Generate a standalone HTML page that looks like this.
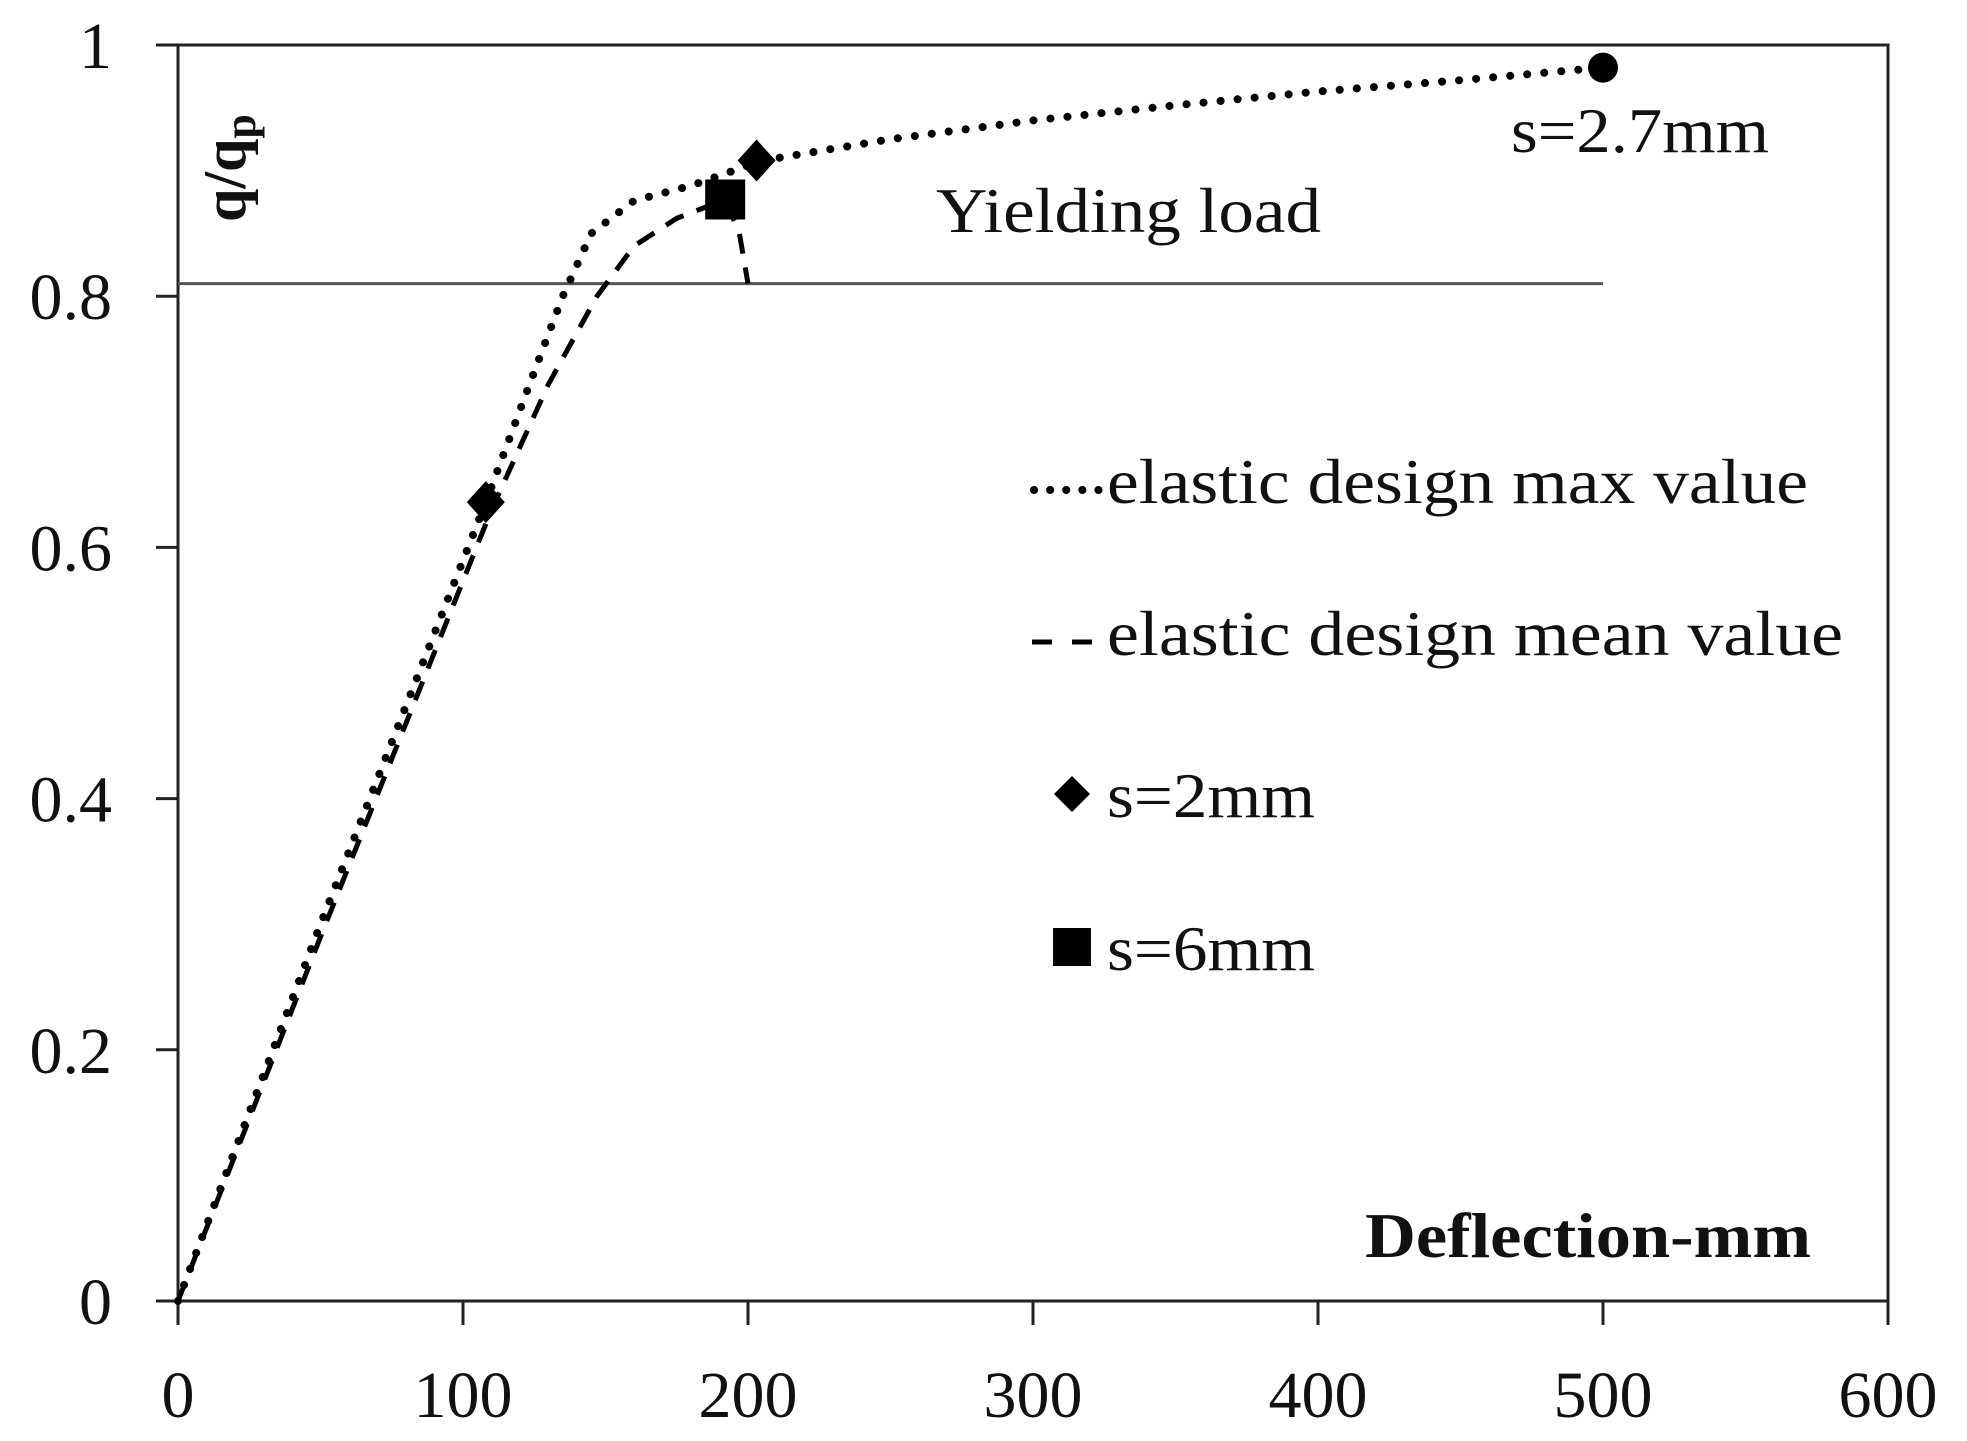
<!DOCTYPE html>
<html><head><meta charset="utf-8"><style>
html,body{margin:0;padding:0;background:#fff}
svg{display:block}
text{font-family:"Liberation Serif",serif;fill:#111}
</style></head><body>
<svg id="chart" width="1967" height="1441" viewBox="0 0 1967 1441" xmlns="http://www.w3.org/2000/svg">
<g id="axes"></g>
<g id="series"></g>
<g id="labels">
  <text transform="translate(245,222) rotate(-90)" font-size="60" font-weight="bold">q/q<tspan font-size="44" dy="10">p</tspan></text>
  <text x="1365" y="1257" font-size="64" font-weight="bold" textLength="446" lengthAdjust="spacingAndGlyphs">Deflection-mm</text>
  <text x="936" y="232" font-size="64" textLength="385" lengthAdjust="spacingAndGlyphs">Yielding load</text>
  <text x="1511" y="152" font-size="64" textLength="258" lengthAdjust="spacingAndGlyphs">s=2.7mm</text>
</g>
<g id="legend">
  <line x1="1034" y1="490" x2="1100" y2="490" stroke="#000" stroke-width="8" stroke-linecap="round" stroke-dasharray="0.1 16"/>
  <text x="1107" y="503" font-size="64" textLength="701" lengthAdjust="spacingAndGlyphs">elastic design max value</text>
  <line x1="1032" y1="642" x2="1092" y2="642" stroke="#000" stroke-width="5" stroke-dasharray="20 20"/>
  <text x="1107" y="655" font-size="64" textLength="736" lengthAdjust="spacingAndGlyphs">elastic design mean value</text>
  <path d="M1072 776 L1090 794 L1072 812 L1054 794 Z" fill="#000"/>
  <text x="1107" y="817" font-size="64" textLength="208" lengthAdjust="spacingAndGlyphs">s=2mm</text>
  <rect x="1053" y="928" width="38" height="38" fill="#000"/>
  <text x="1107" y="970" font-size="64" textLength="208" lengthAdjust="spacingAndGlyphs">s=6mm</text>
</g>
<script>
const xTicks=[0,100,200,300,400,500,600];
const yTicks=[0,0.2,0.4,0.6,0.8,1];
const yTickLabels=["0","0.2","0.4","0.6","0.8","1"];
const maxX=[0,50,108,125,135,145,160,180,205,250,300,350,400,450,500];
const maxY=[0,0.3,0.636,0.74,0.8,0.85,0.876,0.888,0.908,0.925,0.94,0.952,0.963,0.972,0.982];
const meanX=[0,50,110,130,147,160,175,192,197,200];
const meanY=[0,0.29,0.63,0.73,0.8,0.84,0.862,0.877,0.85,0.81];
const diamondX=[108,203];
const diamondY=[0.636,0.908];
const squareX=[192];
const squareY=[0.877];
const circleX=[500];
const circleY=[0.982];
const yieldLoad=0.81;
const yieldEnd=500;

const X0=178,X1=1888,Y0=1301,Y1=45;
const sx=v=>X0+(v-0)/600*(X1-X0);
const sy=v=>Y0-(v-0)/1*(Y0-Y1);
const NS="http://www.w3.org/2000/svg";
function mk(tag,attrs,parent){const e=document.createElementNS(NS,tag);for(const k in attrs)e.setAttribute(k,attrs[k]);parent.appendChild(e);return e;}
const ax=document.getElementById('axes');
const se=document.getElementById('series');

let frame=mk('rect',{x:X0,y:Y1,width:X1-X0,height:Y0-Y1,fill:'none',stroke:'#222','stroke-width':3},ax);


xTicks.forEach((t,i)=>{
  const l=mk('line',{x1:sx(t),y1:Y0,x2:sx(t),y2:Y0+24,stroke:'#222','stroke-width':3},ax);
  
  
  const tx=mk('text',{x:sx(t),y:1417,'font-size':66,'text-anchor':'middle'},ax);
  tx.textContent=String(t);
  
  
});
yTicks.forEach((t,i)=>{
  const l=mk('line',{x1:X0-22,y1:sy(t),x2:X0,y2:sy(t),stroke:'#222','stroke-width':3},ax);
  
  
  const tx=mk('text',{x:112,y:sy(t)+23,'font-size':66,'text-anchor':'end'},ax);
  tx.textContent=yTickLabels[i];
  
  
});
const yl=mk('line',{x1:X0,y1:sy(yieldLoad),x2:sx(yieldEnd),y2:sy(yieldLoad),stroke:'#555','stroke-width':3},se);



function pathFrom(xs,ys){return xs.map((x,i)=>(i?'L':'M')+sx(x).toFixed(1)+' '+sy(ys[i]).toFixed(1)).join(' ');}
const mean=mk('path',{d:pathFrom(meanX,meanY),fill:'none',stroke:'#000','stroke-width':5,'stroke-dasharray':'20 14'},se);


const mx=mk('path',{d:pathFrom(maxX,maxY),fill:'none',stroke:'#000','stroke-width':8,'stroke-linecap':'round','stroke-dasharray':'0.1 17'},se);


diamondX.forEach((x,i)=>{
  const cx=sx(x),cy=sy(diamondY[i]);
  const d=mk('path',{d:`M${cx} ${cy-21} L${cx+19} ${cy} L${cx} ${cy+21} L${cx-19} ${cy} Z`,fill:'#000'},se);
  
  
});
squareX.forEach((x,i)=>{
  const r=mk('rect',{x:sx(x)-20,y:sy(squareY[i])-20,width:40,height:40,fill:'#000'},se);
  
  
});
circleX.forEach((x,i)=>{
  const c=mk('circle',{cx:sx(x),cy:sy(circleY[i]),r:15,fill:'#000'},se);
  
  
});
</script>
</svg>
</body></html>
